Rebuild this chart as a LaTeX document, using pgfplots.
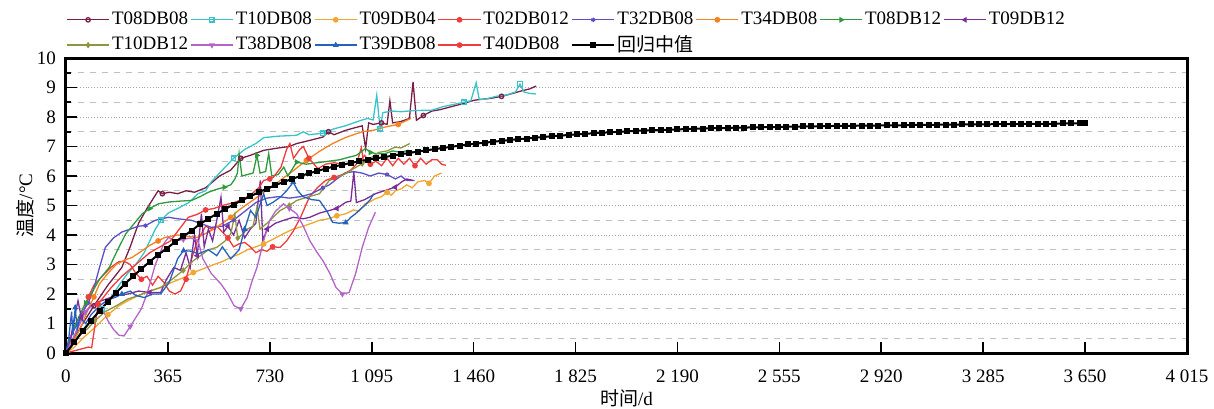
\documentclass[border=0pt]{standalone}
\usepackage{pgfplots}
\pgfplotsset{compat=1.18}
\usepackage{fontspec}
\setmainfont{Liberation Serif}
\newfontfamily\cjk{Noto Sans CJK SC}
\definecolor{cMar}{HTML}{7A1E48}
\definecolor{cCya}{HTML}{38C4C8}
\definecolor{cYel}{HTML}{F0A830}
\definecolor{cRed}{HTML}{F03C3C}
\definecolor{cVio}{HTML}{5B4FC8}
\definecolor{cOra}{HTML}{F58220}
\definecolor{cGre}{HTML}{2E9A3E}
\definecolor{cPur}{HTML}{7B2D9A}
\definecolor{cOli}{HTML}{8C9640}
\definecolor{cLil}{HTML}{B464C8}
\definecolor{cBlu}{HTML}{2462BE}
\pgfplotsset{
  ser/.style={line width=0.65pt, mark size=1.1pt, mark repeat=8, mark phase=5},
}
\begin{document}
\begin{tikzpicture}
\begin{axis}[
  width=560.5pt, height=147.5pt, scale only axis,
  xmin=0, xmax=4015, ymin=0, ymax=10,
  xtick={0,365,...,4015}, ytick={0,1,...,10},
  minor y tick num=1,
  tick align=inside, xtick pos=bottom, ytick pos=left,
  major tick length=5.5pt, minor tick length=2.5pt,
  tick style={line width=0.8pt, black},
  axis line style={line width=1.5pt},
  ymajorgrids, yminorgrids,
  major grid style={densely dotted, black!35, line width=0.5pt},
  minor grid style={dashed, black!25, line width=0.5pt},
  scaled x ticks=false,
  /pgf/number format/assume math mode=true,
  tick label style={font=\fontsize{9.5}{11}\selectfont},
  x tick label style={/pgf/number format/1000 sep={\ }, yshift=-5pt},
  y tick label style={xshift=-1.5pt},
  label style={font=\fontsize{9.5}{11}\selectfont},
  xlabel={{\cjk 时间}/d}, ylabel={{\cjk 温度}/°C},
  xlabel style={at={(axis description cs:0.5,-0.153)}, anchor=center},
  ylabel style={at={(axis description cs:-0.0366,0.5)}, anchor=center},
  legend columns=8,
  legend style={at={(axis description cs:0,1)}, anchor=south west, draw=none, fill=none, inner sep=0pt,
    yshift=-0.5pt, font=\fontsize{9.5}{12}\selectfont, row sep=0pt,
    nodes={inner xsep=1.1pt},
    /tikz/every even column/.append style={column sep=0pt}},
  legend image code/.code={\draw[mark repeat=2,mark phase=2] plot coordinates {(0cm,0cm) (0.37cm,0cm) (0.74cm,0cm)};},
  legend cell align=left,
]
% T08DB08
\addplot[ser, color=cMar, mark=o, mark options={fill=white}] coordinates {
(0,0) (15,0.4) (30,0.5) (60,1.0) (100,1.6) (150,2.3) (200,2.9) (230,3.6) (260,4.4) (290,4.9) (320,5.35) (330,5.5) (345,5.4) (370,5.45) (400,5.4) (430,5.5) (460,5.45) (500,5.6) (550,6.0) (590,6.2) (626,6.6) (660,6.7) (708,6.87) (760,6.95) (800,7.0) (826,7.1) (870,7.2) (920,7.32) (940,7.5) (960,7.4) (1002,7.55) (1040,7.65) (1061,7.7) (1073,6.93) (1084,7.8) (1100,7.75) (1130,7.8) (1150,7.75) (1160,8.55) (1170,7.8) (1200,7.85) (1230,7.95) (1243,9.19) (1255,7.89) (1280,8.05) (1310,8.2) (1340,8.25) (1380,8.35) (1420,8.45) (1463,8.57) (1490,8.6) (1520,8.63) (1560,8.7) (1600,8.8) (1637,8.9) (1660,8.95) (1684,9.05)
};
\addlegendentry{T08DB08}
% T10DB08
\addplot[ser, color=cCya, mark=square, mark options={fill=white}] coordinates {
(0,0) (30,0.4) (60,0.8) (100,1.2) (130,1.5) (162,1.9) (190,2.3) (221,2.7) (250,3.0) (280,3.4) (300,3.8) (320,4.2) (340,4.5) (367,4.75) (400,4.9) (440,5.1) (473,5.4) (500,5.5) (520,5.8) (560,6.2) (600,6.6) (640,6.9) (680,7.1) (708,7.3) (760,7.35) (826,7.38) (850,7.5) (870,7.4) (920,7.45) (960,7.6) (1000,7.7) (1030,7.8) (1061,7.9) (1080,7.95) (1100,7.9) (1113,8.74) (1125,7.6) (1135,8.15) (1170,8.2) (1200,8.18) (1250,8.22) (1310,8.23) (1350,8.35) (1400,8.45) (1425,8.5) (1450,8.55) (1469,9.16) (1480,8.6) (1500,8.6) (1540,8.7) (1580,8.75) (1610,8.85) (1626,9.12) (1640,8.85) (1660,8.8) (1684,8.78)
};
\addlegendentry{T10DB08}
% T09DB04
\addplot[ser, color=cYel, mark=*] coordinates {
(0,0) (30,0.2) (60,0.5) (103,0.86) (150,1.3) (190,1.6) (221,1.77) (260,1.95) (300,2.1) (339,2.22) (380,2.4) (420,2.55) (456,2.73) (490,2.85) (530,3.0) (560,3.1) (590,3.24) (620,3.35) (650,3.5) (680,3.6) (708,3.7) (740,3.85) (780,4.05) (814,4.2) (850,4.3) (880,4.4) (908,4.5) (940,4.55) (970,4.65) (1002,4.72) (1030,4.85) (1049,4.8) (1070,5.05) (1084,5.1) (1108,5.23) (1130,5.3) (1150,5.45) (1165,5.35) (1180,5.5) (1202,5.57) (1220,5.7) (1240,5.6) (1260,5.8) (1284,5.85) (1300,5.75) (1320,6.0) (1345,6.1)
};
\addlegendentry{T09DB04}
% T02DB012
\addplot[ser, color=cRed, mark=*] coordinates {
(0,0) (20,0.3) (40,0.8) (60,1.3) (80,1.9) (100,2.3) (130,2.6) (160,2.9) (190,3.1) (210,3.1) (230,3.0) (250,2.7) (270,2.5) (290,2.6) (310,2.3) (330,2.6) (350,2.4) (370,2.1) (390,2.0) (410,2.1) (430,2.5) (450,3.2) (470,3.8) (485,4.04) (500,4.3) (520,4.2) (540,4.3) (560,4.1) (580,3.9) (600,3.6) (620,3.7) (640,3.75) (660,3.6) (680,3.4) (700,3.5) (720,3.45) (740,3.6) (767,3.58) (790,3.8) (814,4.13) (840,4.6) (873,5.31) (900,5.6) (930,5.85) (960,5.95) (990,6.05) (1020,6.2) (1040,6.4) (1058,6.96) (1065,6.5) (1080,6.55) (1095,6.6)
};
\addlegendentry{T02DB012}
% T32DB08
\addplot[ser, color=cVio, mark=asterisk] coordinates {
(0,0) (20,0.6) (40,1.0) (60,1.4) (80,1.7) (100,2.2) (120,2.9) (141,3.58) (170,3.9) (200,4.1) (230,4.2) (260,4.3) (285,4.32) (320,4.5) (367,4.6) (400,4.55) (449,4.5) (480,4.4) (520,4.26) (560,4.3) (600,4.5) (640,4.8) (680,5.1) (720,5.25) (760,5.3) (800,5.25) (840,5.3) (880,5.4) (920,5.6) (943,5.7) (970,5.9) (1000,6.1) (1030,6.15) (1060,6.1) (1090,6.0) (1120,6.1) (1150,6.05) (1180,5.9) (1200,6.0) (1220,5.85) (1249,5.85)
};
\addlegendentry{T32DB08}
% T34DB08
\addplot[ser, color=cOra, mark=*] coordinates {
(0,0) (20,0.3) (50,0.8) (80,1.5) (100,1.9) (120,2.34) (150,2.7) (180,3.0) (210,3.15) (237,3.24) (270,3.45) (300,3.65) (330,3.8) (355,3.92) (400,4.0) (440,3.95) (473,3.92) (500,4.05) (530,4.2) (560,4.4) (590,4.6) (620,4.85) (650,5.05) (680,5.25) (708,5.45) (740,5.65) (767,5.85) (810,6.15) (861,6.53) (910,6.85) (955,7.1) (1000,7.3) (1030,7.4) (1061,7.5) (1100,7.55) (1143,7.66) (1190,7.75) (1235,7.95)
};
\addlegendentry{T34DB08}
% T08DB12
\addplot[ser, color=cGre, mark=triangle*, mark options={rotate=-90}] coordinates {
(0,0) (15,0.5) (30,0.9) (50,1.3) (70,1.7) (96,2.1) (120,2.5) (155,2.9) (185,3.5) (214,4.04) (245,4.4) (273,4.72) (300,4.9) (332,5.06) (370,5.12) (410,5.15) (449,5.17) (480,5.3) (510,5.45) (540,5.55) (567,5.62) (590,5.7) (605,5.9) (614,6.1) (620,6.76) (630,6.0) (650,6.05) (670,6.1) (684,6.7) (695,6.1) (715,6.15) (726,6.76) (737,6.0) (760,6.05) (780,6.3) (795,6.0) (826,6.47) (860,6.4) (900,6.45) (940,6.5) (980,6.55) (1014,6.64) (1040,6.7) (1073,6.93) (1090,6.8) (1110,6.76) (1140,6.75) (1170,6.85) (1200,6.8) (1225,6.87) (1243,6.81)
};
\addlegendentry{T08DB12}
% T09DB12
\addplot[ser, color=cPur, mark=triangle*, mark options={rotate=90}] coordinates {
(0,0) (15,0.4) (30,1.2) (43,1.77) (55,1.2) (70,1.4) (90,1.6) (120,1.75) (150,1.85) (180,1.95) (221,2.0) (260,2.1) (300,2.05) (339,2.05) (360,2.5) (386,2.9) (410,2.8) (430,3.4) (445,2.9) (460,4.0) (470,3.3) (485,4.72) (495,3.6) (510,4.2) (525,3.8) (540,4.5) (555,5.28) (565,4.1) (580,4.3) (600,4.0) (620,4.5) (640,3.9) (660,4.2) (680,4.4) (696,5.85) (705,3.8) (720,4.2) (750,4.4) (780,4.5) (814,4.6) (850,4.55) (873,4.6) (910,4.75) (943,4.83) (970,4.9) (1002,5.11) (1020,5.15) (1031,6.13) (1040,5.1) (1070,5.2) (1108,5.4) (1140,5.5) (1179,5.62) (1202,5.8) (1220,5.9) (1243,5.85)
};
\addlegendentry{T09DB12}
% T10DB12
\addplot[ser, color=cOli, mark=diamond*] coordinates {
(0,0) (20,0.3) (50,0.6) (80,0.85) (103,1.09) (140,1.4) (180,1.6) (221,1.83) (260,1.95) (300,2.1) (339,2.22) (380,2.5) (420,2.8) (456,3.13) (473,3.24) (510,3.5) (540,3.58) (570,3.8) (590,4.04) (605,4.7) (615,3.9) (630,4.0) (650,4.2) (670,4.3) (684,4.94) (695,4.2) (720,4.4) (767,4.83) (800,5.0) (826,5.17) (870,5.3) (908,5.4) (943,5.85) (970,5.95) (1002,6.08) (1030,6.25) (1061,6.42) (1090,6.6) (1120,6.8) (1150,6.85) (1179,6.98) (1200,6.95) (1231,7.1)
};
\addlegendentry{T10DB12}
% T38DB08
\addplot[ser, color=cLil, mark=triangle*, mark options={rotate=180}] coordinates {
(0,0) (15,0.3) (30,0.6) (50,1.0) (70,1.4) (90,1.6) (110,1.7) (130,1.5) (150,1.1) (170,0.8) (190,0.6) (208,0.58) (230,0.9) (250,1.2) (270,1.5) (290,2.0) (320,3.0) (350,3.7) (367,3.92) (390,3.8) (420,3.85) (445,3.9) (473,3.81) (490,3.2) (520,2.7) (555,2.34) (580,2.0) (602,1.6) (626,1.5) (649,1.88) (665,2.4) (684,2.9) (708,3.81) (730,4.5) (750,4.8) (779,5.06) (800,4.9) (826,4.72) (850,4.3) (873,3.81) (900,3.4) (920,3.13) (945,2.7) (967,2.22) (990,2.0) (1014,2.05) (1037,2.68) (1061,3.58) (1084,4.26) (1108,4.77)
};
\addlegendentry{T38DB08}
% T39DB08
\addplot[ser, color=cBlu, mark=triangle*] coordinates {
(0,0) (10,0.5) (20,1.4) (25,0.6) (33,1.54) (40,0.8) (50,1.2) (70,1.0) (90,1.3) (120,1.6) (150,1.8) (180,1.9) (200,2.0) (230,2.1) (250,1.95) (280,1.88) (310,2.0) (339,2.0) (370,2.4) (400,3.2) (421,3.47) (450,3.45) (473,3.36) (510,3.5) (540,3.3) (560,3.6) (590,3.19) (620,3.5) (640,4.2) (661,4.83) (680,4.6) (708,5.4) (720,5.0) (740,5.1) (770,5.3) (790,5.5) (814,5.79) (830,5.5) (849,5.3) (880,5.2) (908,5.17) (935,4.8) (955,4.43) (978,4.4) (1002,4.42) (1020,4.6) (1037,4.72) (1049,4.83) (1070,5.0) (1090,5.2) (1102,5.4)
};
\addlegendentry{T39DB08}
% T40DB08
\addplot[ser, color=cRed, mark=*] coordinates {
(0,0) (40,0.1) (80,0.2) (92,0.18) (115,1.66) (162,2.22) (200,2.6) (250,3.0) (300,3.4) (374,3.8) (438,4.6) (470,4.7) (500,4.85) (530,4.9) (560,5.0) (602,5.1) (630,5.2) (660,5.35) (690,5.6) (708,5.85) (730,5.9) (743,5.96) (770,6.3) (790,6.9) (802,7.1) (815,6.6) (837,6.9) (850,7.0) (870,6.6) (902,6.25) (930,6.4) (960,6.45) (990,6.4) (1020,6.45) (1050,6.5) (1070,6.7) (1090,6.4) (1110,6.5) (1130,6.35) (1150,6.6) (1170,6.35) (1190,6.6) (1210,6.4) (1230,6.6) (1250,6.35) (1270,6.6) (1290,6.4) (1310,6.55) (1330,6.55) (1345,6.4) (1361,6.36)
};
\addlegendentry{T40DB08}
% regression median
\addplot[color=black, line width=1pt, mark=square*, mark size=1pt] coordinates {
(0,0) (30,0.36) (60,0.75) (90,1.1) (120,1.43) (150,1.74) (180,2.05) (210,2.33) (240,2.6) (270,2.85) (300,3.1) (330,3.33) (360,3.54) (390,3.76) (420,3.95) (450,4.15) (480,4.37) (510,4.55) (540,4.72) (570,4.88) (600,5.03) (630,5.18) (660,5.31) (690,5.45) (720,5.57) (750,5.69) (780,5.8) (810,5.9) (840,6.0) (870,6.09) (900,6.17) (930,6.25) (960,6.32) (990,6.38) (1020,6.44) (1050,6.5) (1080,6.55) (1110,6.6) (1140,6.64) (1170,6.69) (1200,6.74) (1230,6.78) (1260,6.83) (1290,6.87) (1320,6.91) (1350,6.95) (1380,6.99) (1410,7.03) (1440,7.07) (1470,7.1) (1500,7.13) (1530,7.16) (1560,7.19) (1590,7.22) (1620,7.25) (1650,7.27) (1680,7.3) (1710,7.32) (1740,7.35) (1770,7.37) (1800,7.39) (1830,7.41) (1860,7.43) (1890,7.45) (1920,7.47) (1950,7.48) (1980,7.5) (2010,7.51) (2040,7.53) (2070,7.54) (2100,7.55) (2130,7.56) (2160,7.57) (2190,7.58) (2220,7.59) (2250,7.6) (2280,7.61) (2310,7.62) (2340,7.62) (2370,7.63) (2400,7.64) (2430,7.64) (2460,7.65) (2490,7.65) (2520,7.66) (2550,7.66) (2580,7.67) (2610,7.67) (2640,7.68) (2670,7.68) (2700,7.69) (2730,7.69) (2760,7.7) (2790,7.7) (2820,7.7) (2850,7.71) (2880,7.71) (2910,7.71) (2940,7.72) (2970,7.72) (3000,7.72) (3030,7.73) (3060,7.73) (3090,7.73) (3120,7.74) (3150,7.74) (3180,7.74) (3210,7.75) (3240,7.75) (3270,7.75) (3300,7.75) (3330,7.76) (3360,7.76) (3390,7.76) (3420,7.76) (3450,7.77) (3480,7.77) (3510,7.77) (3540,7.77) (3570,7.78) (3600,7.78) (3630,7.78) (3650,7.78)
};
\addlegendentry{{\cjk 回归中值}}
\end{axis}
\pgfresetboundingbox
\path[use as bounding box] ([shift={(-33pt,-27.5pt)}]current axis.south west) rectangle ([shift={(13.5pt,29pt)}]current axis.north east);
\end{tikzpicture}
\end{document}
